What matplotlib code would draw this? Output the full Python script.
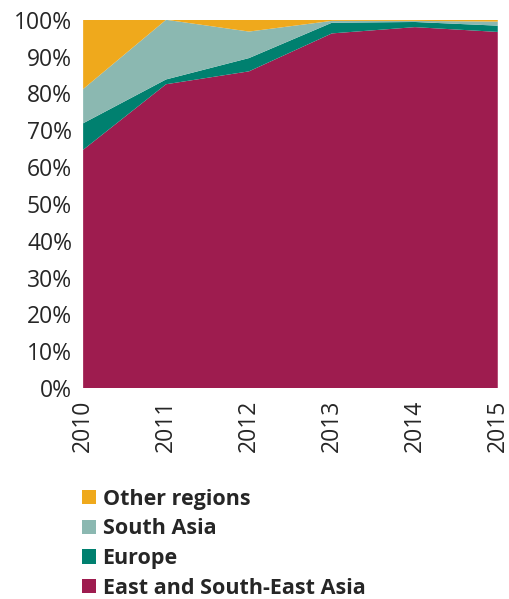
import numpy as np
import matplotlib.pyplot as plt
from matplotlib.patches import Patch

plt.rcParams['font.family'] = ['Open Sans', 'DejaVu Sans']

years = ['2010', '2011', '2012', '2013', '2014', '2015']
east_se_asia = [64.7, 82.5, 86.0, 96.3, 98.0, 96.7]
europe = [7.2, 1.3, 3.6, 2.9, 1.4, 1.7]
south_asia = [9.3, 16.2, 7.2, 0.5, 0.3, 1.1]
other = [18.8, 0.0, 3.2, 0.3, 0.3, 0.5]

labels = ['East and South-East Asia', 'Europe', 'South Asia', 'Other regions']
colors = ['#9E1C4F', '#00806F', '#8BB8B1', '#EFA91C']

fig = plt.figure(figsize=(5.1, 5.99), dpi=100)
ax = fig.add_axes([0.163, 0.352, 0.813, 0.615])

x = np.arange(len(years))
ax.stackplot(x, east_se_asia, europe, south_asia, other,
             colors=colors, linewidth=0)

ax.set_xlim(0, len(years) - 1)
ax.set_ylim(0, 100)
ax.set_xticks(x)
ax.set_xticklabels(years, rotation=90, fontsize=16.5, color='#262626')
ax.set_yticks(np.arange(0, 101, 10))
ax.set_yticklabels(['{}%'.format(v) for v in range(0, 101, 10)],
                   fontsize=16.5, color='#262626')
ax.tick_params(length=0, pad=8)
for s in ax.spines.values():
    s.set_visible(False)

# legend lists the top band first
handles = [Patch(facecolor=c, edgecolor='none') for c in colors][::-1]
fig.legend(handles, labels[::-1], loc='upper left',
           bbox_to_anchor=(0.161, 0.184), frameon=False,
           prop={'weight': 'bold', 'size': 15.5},
           handlelength=0.65, handleheight=0.65, handletextpad=0.3,
           labelspacing=0.4, borderaxespad=0, borderpad=0,
           labelcolor='#262626')

fig.savefig('out.png', dpi=100)
